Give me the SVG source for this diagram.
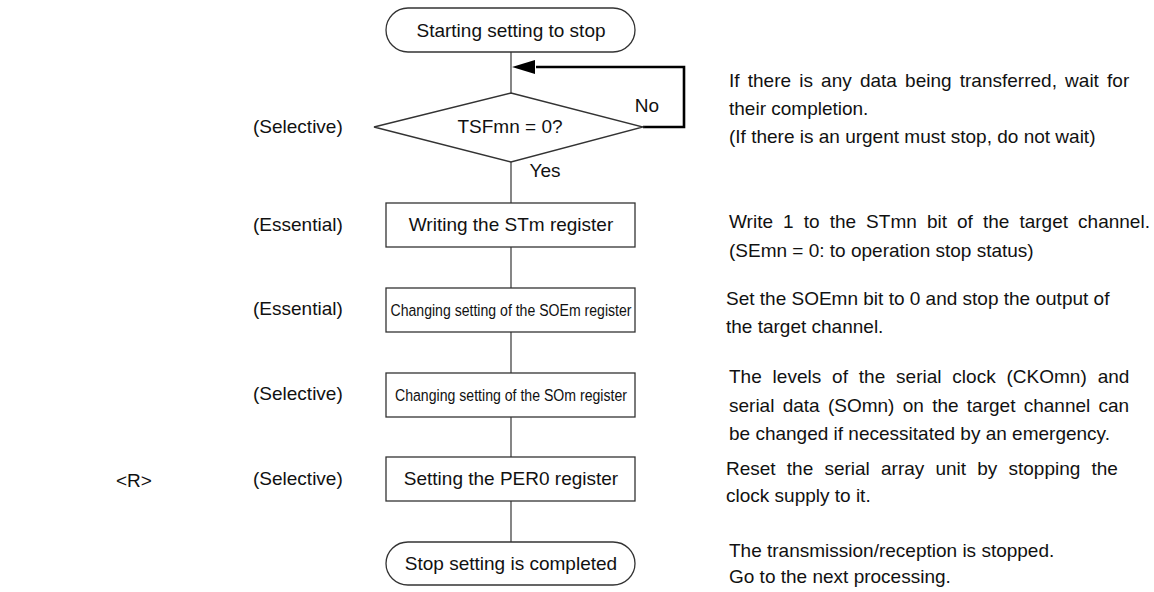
<svg xmlns="http://www.w3.org/2000/svg" width="1154" height="592" viewBox="0 0 1154 592">
<style>
text{font-family:"Liberation Sans",Arial,sans-serif;font-size:19px;fill:#111}
.c{text-anchor:middle}
.sh{stroke:#333;stroke-width:1.3;fill:#fff}
.ln{stroke:#444;stroke-width:1.3;fill:none}
.sm{font-size:16.3px}
</style>
<defs>
<marker id="ah" markerWidth="24" markerHeight="16" refX="1" refY="7" orient="auto" markerUnits="userSpaceOnUse">
<path d="M23,0 L0,7 L23,14 Z" fill="#000"/>
</marker>
</defs>
<rect width="1154" height="592" fill="#fff"/>
<g id="connectors">
<line class="ln" x1="511" y1="52" x2="511" y2="93"/>
<line class="ln" x1="511" y1="162" x2="511" y2="203"/>
<line class="ln" x1="511" y1="247" x2="511" y2="288"/>
<line class="ln" x1="511" y1="332" x2="511" y2="373"/>
<line class="ln" x1="511" y1="416" x2="511" y2="457"/>
<line class="ln" x1="511" y1="501" x2="511" y2="542"/>
<path d="M643,127 H684 V67 H536" fill="none" stroke="#000" stroke-width="2.6"/>
<path d="M535,60 L512,67 L535,74 Z" fill="#000"/>
<text x="647" y="112" class="c">No</text>
<text x="545" y="177" class="c">Yes</text>
</g>
<g id="start">
<rect class="sh" x="386" y="8" width="249" height="44" rx="22" ry="22"/>
<text x="511" y="37" class="c">Starting setting to stop</text>
</g>
<g id="decision">
<polygon class="sh" points="511,93 643,127 511,162 374,127"/>
<text x="510" y="133" class="c">TSFmn = 0?</text>
</g>
<g id="box1">
<rect class="sh" x="386" y="203" width="249" height="44"/>
<text x="511" y="231" class="c">Writing the STm register</text>
</g>
<g id="box2">
<rect class="sh" x="386" y="288" width="249" height="44"/>
<text x="511" y="316" class="c sm" textLength="241" lengthAdjust="spacingAndGlyphs">Changing setting of the SOEm register</text>
</g>
<g id="box3">
<rect class="sh" x="386" y="373" width="249" height="44"/>
<text x="511" y="401" class="c sm" textLength="232" lengthAdjust="spacingAndGlyphs">Changing setting of the SOm register</text>
</g>
<g id="box4">
<rect class="sh" x="386" y="457" width="249" height="44"/>
<text x="511" y="485" class="c">Setting the PER0 register</text>
</g>
<g id="end">
<rect class="sh" x="386" y="542" width="249" height="43" rx="22" ry="21.5"/>
<text x="511" y="570" class="c">Stop setting is completed</text>
</g>
<g id="left-labels">
<text x="253" y="133">(Selective)</text>
<text x="253" y="231">(Essential)</text>
<text x="253" y="315">(Essential)</text>
<text x="253" y="400">(Selective)</text>
<text x="253" y="485">(Selective)</text>
<text x="116" y="487">&lt;R&gt;</text>
</g>
<g id="notes">
<text x="729" y="87" word-spacing="2.9">If there is any data being transferred, wait for</text>
<text x="729" y="115">their completion.</text>
<text x="729" y="143">(If there is an urgent must stop, do not wait)</text>
<text x="729" y="228" word-spacing="4.8">Write 1 to the STmn bit of the target channel.</text>
<text x="729" y="257">(SEmn = 0: to operation stop status)</text>
<text x="726" y="305">Set the SOEmn bit to 0 and stop the output of</text>
<text x="726" y="333">the target channel.</text>
<text x="729" y="383" word-spacing="5.6">The levels of the serial clock (CKOmn) and</text>
<text x="729" y="412" word-spacing="3.0">serial data (SOmn) on the target channel can</text>
<text x="729" y="440">be changed if necessitated by an emergency.</text>
<text x="726" y="475" word-spacing="5.9">Reset the serial array unit by stopping the</text>
<text x="726" y="502">clock supply to it.</text>
<text x="729" y="557">The transmission/reception is stopped.</text>
<text x="729" y="583">Go to the next processing.</text>
</g>
</svg>
